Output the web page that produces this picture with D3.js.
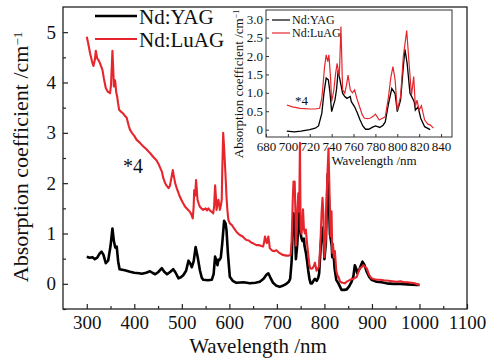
<!DOCTYPE html>
<html>
<head>
<meta charset="utf-8">
<script src="https://cdn.jsdelivr.net/npm/d3@7"></script>
<style>
  body { margin: 0; background: #fff; }
  text { font-family: "Liberation Serif", "Times New Roman", serif; fill: #111; }
</style>
</head>
<body>
<div id="chart"></div>
<script>
// Nd:YAG absorption (black), wavelength in nm and coefficient in 1/cm
var yagWl = [300, 306, 312, 317, 322, 327, 331, 335, 340, 345, 350, 354, 357, 360, 363, 366, 369, 380, 391, 400,
  410, 416, 425, 433, 438, 444, 450, 458, 463, 469, 476, 482, 487, 493, 498, 503, 509, 514, 518, 521,
  525, 529, 533, 538, 542, 545, 555, 563, 567, 570, 573, 575, 577, 579, 582, 585, 589, 592, 594, 597,
  601, 607, 615, 630, 643, 655, 664, 672, 678, 682, 686, 692, 699, 706, 712, 720, 725, 728, 731, 733,
  735, 737, 738.5, 740, 743, 744.5, 746, 747.6, 750, 752, 754, 757, 758, 761, 763.5, 766, 768.5, 771, 774, 777,
  780, 782, 784, 787, 789, 792, 795, 798, 800, 803, 805.5, 807, 809, 811.6, 814, 815.5, 816.5, 819, 821.4, 825,
  830, 836, 842, 847, 852, 857, 861, 864, 867, 869, 874, 880, 884, 889, 894, 899, 910, 920, 931, 945,
  960, 975, 994, 1000];
var yagAbs = [0.54, 0.52, 0.53, 0.49, 0.52, 0.60, 0.64, 0.58, 0.41, 0.46, 0.75, 1.10, 0.85, 0.72, 0.74, 0.45, 0.29, 0.27, 0.24, 0.22,
  0.21, 0.20, 0.22, 0.25, 0.22, 0.19, 0.23, 0.31, 0.24, 0.19, 0.24, 0.29, 0.22, 0.11, 0.13, 0.17, 0.26, 0.46, 0.40, 0.33,
  0.45, 0.73, 0.55, 0.27, 0.12, 0.08, 0.07, 0.08, 0.20, 0.54, 0.45, 0.37, 0.48, 0.47, 0.52, 0.80, 1.25, 1.20, 1.07, 0.60,
  0.14, 0.06, 0.02, 0.03, 0.01, 0.02, 0.04, 0.10, 0.18, 0.21, 0.13, 0.02, -0.04, -0.06, -0.04, 0.00, 0.04, 0.10, 0.44, 1.00,
  1.40, 1.35, 1.00, 0.49, 0.80, 1.10, 1.62, 1.35, 0.99, 0.90, 0.85, 0.90, 0.76, 0.62, 0.45, 0.26, 0.10, 0.01, 0.01, 0.06,
  0.10, 0.08, 0.06, 0.12, 0.21, 0.71, 1.12, 0.98, 0.49, 0.80, 1.71, 2.18, 1.80, 0.99, 0.85, 0.75, 0.53, 0.62, 0.31, 0.08,
  0.00, -0.12, -0.12, -0.11, -0.05, 0.04, 0.15, 0.37, 0.30, 0.21, 0.30, 0.44, 0.38, 0.24, 0.14, 0.08, 0.04, 0.03, 0.01, 0.00,
  0.00, -0.01, -0.02, -0.02];

// Nd:LuAG absorption (red)
var luagWl = [300, 303, 307, 311, 314, 317, 319, 322, 325, 328, 331, 333, 336, 340, 344, 349, 351, 353, 354, 356,
  357, 359, 360, 362, 364, 366, 368, 372, 376, 380, 384, 388, 391, 395, 400, 405, 412, 418, 425, 433,
  440, 447, 452, 458, 461, 465, 468, 472, 475, 478, 481, 483, 486, 490, 496, 501, 507, 512, 517, 520,
  523, 525, 526, 528, 530, 532, 533, 536, 538, 541, 545, 550, 553, 556, 560, 563, 566, 568, 570, 572,
  573, 575, 577, 579, 580, 582, 584, 585, 587, 589, 591, 593, 594, 596, 598, 601, 605, 610, 616, 622,
  628, 632, 636, 641, 646, 651, 657, 662, 667, 671, 673, 675, 677, 679, 681, 682, 684, 685, 690, 695,
  699, 704, 708, 711, 715, 720, 725, 729, 731, 732, 733.5, 735, 736.4, 737.5, 739, 740, 742, 743.5, 745, 747,
  748.5, 750, 752, 753.5, 755, 757, 759, 761, 763, 766, 768, 770, 773, 775, 778, 780, 783.5, 786, 789, 792,
  794, 796, 798, 800, 803, 805.5, 808.6, 811, 813, 815, 816.5, 818, 820, 822, 825, 828, 830, 833, 838, 843,
  848, 854, 861, 868, 872, 875, 878, 882, 885, 889, 894, 899, 905, 911, 917, 925, 935, 943, 952, 960,
  968, 975, 983, 990, 998, 1000];
var luagAbs = [4.91, 4.78, 4.58, 4.42, 4.33, 4.45, 4.63, 4.48, 4.44, 4.38, 4.30, 4.25, 4.08, 3.89, 3.82, 3.79, 3.95, 4.40, 4.63, 4.20,
  3.92, 4.05, 4.02, 3.80, 3.72, 3.58, 3.46, 3.42, 3.39, 3.34, 3.30, 3.15, 3.06, 3.00, 2.94, 2.86, 2.80, 2.74, 2.68, 2.60,
  2.52, 2.45, 2.36, 2.23, 2.10, 2.00, 1.95, 1.90, 1.95, 2.10, 2.26, 2.15, 2.00, 1.88, 1.73, 1.63, 1.53, 1.48, 1.43, 1.38,
  1.30, 1.55, 1.86, 1.75, 2.06, 1.80, 1.67, 1.58, 1.53, 1.50, 1.47, 1.50, 1.46, 1.50, 1.45, 1.43, 1.40, 1.55, 1.96, 1.70,
  1.47, 1.58, 1.67, 1.55, 1.47, 1.55, 1.67, 2.20, 3.00, 2.70, 2.33, 1.95, 1.73, 1.45, 1.27, 1.20, 1.17, 1.10, 1.02, 0.97,
  0.94, 0.90, 0.87, 0.86, 0.82, 0.80, 0.77, 0.77, 0.75, 0.74, 0.82, 0.94, 0.85, 0.81, 0.90, 0.94, 0.80, 0.71, 0.66, 0.65,
  0.67, 0.62, 0.60, 0.58, 0.57, 0.56, 0.56, 0.58, 0.85, 1.17, 1.70, 2.03, 1.85, 2.03, 1.40, 0.76, 1.07, 1.50, 1.80, 1.44,
  2.80, 1.08, 0.99, 1.20, 1.48, 1.08, 1.00, 1.08, 0.85, 0.58, 0.40, 0.31, 0.30, 0.31, 0.36, 0.42, 0.26, 0.30, 0.35, 0.90,
  1.40, 1.71, 1.35, 0.53, 0.90, 1.98, 2.69, 1.71, 0.94, 1.44, 0.62, 0.80, 0.53, 0.65, 0.26, 0.15, 0.13, 0.04, 0.02, 0.01,
  0.05, 0.08, 0.10, 0.14, 0.25, 0.31, 0.33, 0.37, 0.34, 0.31, 0.18, 0.11, 0.09, 0.08, 0.08, 0.07, 0.06, 0.05, 0.04, 0.05,
  0.03, 0.03, 0.02, 0.01, -0.02, -0.01];

var seriesNames = ['Nd:YAG', 'Nd:LuAG'];
var seriesColors = ['#000000', '#e6262c'];

var xTicks = [300, 400, 500, 600, 700, 800, 900, 1000, 1100];
var yTicks = [0, 1, 2, 3, 4, 5];
var insetXTicks = [680, 700, 720, 740, 760, 780, 800, 820, 840];
var insetYTicks = [0, 0.5, 1, 1.5, 2, 2.5, 3];

var FONT = '"Liberation Serif", "Times New Roman", serif';
var W = 498, H = 358;

var svg = d3.select('#chart').append('svg')
    .attr('width', W)
    .attr('height', H);

var yag = yagWl.map(function(w, i){ return {w: w, v: yagAbs[i]}; });
var luag = luagWl.map(function(w, i){ return {w: w, v: luagAbs[i]}; });

// d3's axis sets its own small sans font on the group, so put ours back afterwards
function styleAxis(g, size){
    g.select('.domain').remove();
    g.attr('font-family', FONT).attr('font-size', size);
}

// ---------- main plot ----------
var box = {left: 63, right: 467, top: 7, bottom: 309};

var x = d3.scaleLinear().domain([250, 1100]).range([box.left, box.right]);
var y = d3.scaleLinear().domain([-0.5, 5.5]).range([box.bottom, box.top]);

var line = d3.line()
    .x(function(d){ return x(d.w); })
    .y(function(d){ return y(d.v); });

// x axis, ticks pointing inward (minor ticks first)
svg.append('g')
    .attr('transform', 'translate(0,' + box.bottom + ')')
    .call(d3.axisBottom(x).tickValues(d3.range(350, 1100, 100)).tickSize(-3).tickFormat(''))
    .call(styleAxis, 19);
svg.append('g')
    .attr('class', 'x-axis')
    .attr('transform', 'translate(0,' + box.bottom + ')')
    .call(d3.axisBottom(x).tickValues(xTicks).tickSize(-5).tickPadding(7).tickFormat(d3.format('d')))
    .call(styleAxis, 19);

svg.append('g')
    .attr('transform', 'translate(' + box.left + ',0)')
    .call(d3.axisLeft(y).tickValues([-0.5, 0.5, 1.5, 2.5, 3.5, 4.5]).tickSize(-3).tickFormat(''))
    .call(styleAxis, 19);
svg.append('g')
    .attr('class', 'y-axis')
    .attr('transform', 'translate(' + box.left + ',0)')
    .call(d3.axisLeft(y).tickValues(yTicks).tickSize(-5).tickPadding(7).tickFormat(d3.format('d')))
    .call(styleAxis, 19);

svg.selectAll('.tick line').attr('stroke', '#222').attr('stroke-width', 1.2);

svg.append('rect')
    .attr('x', box.left)
    .attr('y', box.top)
    .attr('width', box.right - box.left)
    .attr('height', box.bottom - box.top)
    .attr('fill', 'none')
    .attr('stroke', '#222')
    .attr('stroke-width', 1.3);

svg.append('path')
    .datum(yag)
    .attr('d', line)
    .attr('fill', 'none')
    .attr('stroke', seriesColors[0])
    .attr('stroke-width', 2.6)
    .attr('stroke-linejoin', 'round');

svg.append('path')
    .datum(luag)
    .attr('d', line)
    .attr('fill', 'none')
    .attr('stroke', seriesColors[1])
    .attr('stroke-width', 2.1)
    .attr('stroke-linejoin', 'round');

// axis titles
svg.append('text')
    .attr('x', 258)
    .attr('y', 353)
    .attr('text-anchor', 'middle')
    .style('font-size', '21px')
    .text('Wavelength /nm');

var yTitle = svg.append('text')
    .attr('transform', 'translate(28,157) rotate(-90)')
    .attr('text-anchor', 'middle')
    .style('font-size', '22px');
yTitle.append('tspan').text('Absorption coefficient /cm');
yTitle.append('tspan').attr('dy', '-0.5em').style('font-size', '13px').text('\u22121');

// legend
seriesNames.forEach(function(name, i){
    var ly = 16 + i * 23;
    svg.append('line')
        .attr('x1', 95).attr('x2', 137)
        .attr('y1', ly).attr('y2', ly)
        .attr('stroke', seriesColors[i])
        .attr('stroke-width', i === 0 ? 2.6 : 2.1);
    svg.append('text')
        .attr('x', 139)
        .attr('y', ly + 8)
        .style('font-size', '21px')
        .text(name);
});

svg.append('text')
    .attr('x', 123)
    .attr('y', 173)
    .style('font-size', '20px')
    .text('*4');

// ---------- inset ----------
var ib = {left: 266, right: 452, top: 10, bottom: 137};

var ix = d3.scaleLinear().domain([680, 850]).range([ib.left, ib.right]);
var iy = d3.scaleLinear().domain([-0.2, 3.25]).range([ib.bottom, ib.top]);

var iline = d3.line()
    .x(function(d){ return ix(d.w); })
    .y(function(d){ return iy(d.v); });

var inset = svg.append('g').attr('class', 'inset');

inset.append('rect')
    .attr('x', ib.left)
    .attr('y', ib.top)
    .attr('width', ib.right - ib.left)
    .attr('height', ib.bottom - ib.top)
    .attr('fill', '#fff')
    .attr('stroke', '#333')
    .attr('stroke-width', 1);

inset.append('g')
    .attr('transform', 'translate(0,' + ib.bottom + ')')
    .call(d3.axisBottom(ix).tickValues(insetXTicks).tickSize(-3).tickPadding(5).tickFormat(d3.format('d')))
    .call(styleAxis, 13);

inset.append('g')
    .attr('transform', 'translate(' + ib.left + ',0)')
    .call(d3.axisLeft(iy).tickValues(insetYTicks).tickSize(-3).tickPadding(3)
        .tickFormat(function(d){ return d === 0 ? '0' : d3.format('.1f')(d); }))
    .call(styleAxis, 13);

inset.selectAll('.tick line').attr('stroke', '#333');

var inRange = function(d){ return d.w >= 699 && d.w <= 834; };

inset.append('path')
    .datum(yag.filter(inRange))
    .attr('d', iline)
    .attr('fill', 'none')
    .attr('stroke', seriesColors[0])
    .attr('stroke-width', 1.3);

inset.append('path')
    .datum(luag.filter(inRange))
    .attr('d', iline)
    .attr('fill', 'none')
    .attr('stroke', seriesColors[1])
    .attr('stroke-width', 1.2);

inset.append('text')
    .attr('x', 374)
    .attr('y', 165)
    .attr('text-anchor', 'middle')
    .style('font-size', '13px')
    .text('Wavelength /nm');

var iyTitle = inset.append('text')
    .attr('transform', 'translate(243,84) rotate(-90)')
    .attr('text-anchor', 'middle')
    .style('font-size', '13px');
iyTitle.append('tspan').text('Absorption coefficient /cm');
iyTitle.append('tspan').attr('dy', '-0.5em').style('font-size', '8px').text('\u22121');

seriesNames.forEach(function(name, i){
    var ly = 20 + i * 13;
    inset.append('line')
        .attr('x1', 272).attr('x2', 290)
        .attr('y1', ly).attr('y2', ly)
        .attr('stroke', seriesColors[i])
        .attr('stroke-width', 1.2);
    inset.append('text')
        .attr('x', 292)
        .attr('y', ly + 4)
        .style('font-size', '12px')
        .text(name);
});

inset.append('text')
    .attr('x', 295)
    .attr('y', 105)
    .style('font-size', '13px')
    .text('*4');
</script>
</body>
</html>
